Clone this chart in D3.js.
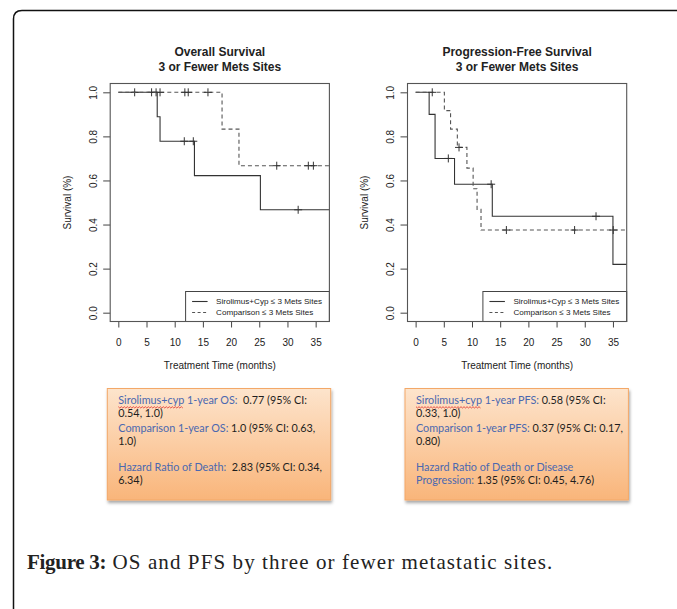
<!DOCTYPE html>
<html>
<head>
<meta charset="utf-8">
<script src="https://cdnjs.cloudflare.com/ajax/libs/d3/7.8.5/d3.min.js"></script>
<style>
  body { margin: 0; background: #fff; }
  svg text { font-family: "Liberation Sans", Arial, sans-serif; fill: #222; }
</style>
</head>
<body>
<div id="chart"></div>
<script>
// ---- values ----
// OS, Sirolimus+Cyp (solid)
var osSiroTimes = [0, 6.9, 7.4, 13.5, 25.2];
var osSiroSurv  = [1, 0.889, 0.778, 0.622, 0.467];
var osSiroCens  = [2.9, 5.9, 6.7, 11.7, 13.3, 31.9];
// OS, comparison (dashed)
var osCompTimes = [0, 18.4, 21.4];
var osCompSurv  = [1, 0.833, 0.667];
var osCompCens  = [7.4, 11.8, 12.4, 15.9, 28.1, 33.7, 34.6];

// PFS, Sirolimus+Cyp (solid)
var pfsSiroTimes = [0, 2.4, 3.45, 6.9, 13.6, 35.0];
var pfsSiroSurv  = [1, 0.9, 0.7, 0.583, 0.4375, 0.219];
var pfsSiroCens  = [5.8, 13.4, 32.0];
// PFS, comparison (dashed)
var pfsCompTimes = [0, 5.1, 6.2, 7.4, 9.1, 10.2, 10.9, 11.6];
var pfsCompSurv  = [1, 0.917, 0.833, 0.75, 0.656, 0.5625, 0.469, 0.375];
var pfsCompCens  = [2.95, 7.7, 16.1, 28.2, 35.05];

var xTicks = [0, 5, 10, 15, 20, 25, 30, 35];
var yTicks = [0, 0.2, 0.4, 0.6, 0.8, 1.0];
var legendLabels = ["Sirolimus+Cyp \u2264 3 Mets Sites", "Comparison \u2264 3 Mets Sites"];
var osTitle  = ["Overall Survival", "3 or Fewer Mets Sites"];
var pfsTitle = ["Progression-Free Survival", "3 or Fewer Mets Sites"];
var xTitle = "Treatment Time (months)";
var yTitle = "Survival (%)";

// summary boxes: each line = list of [text, kind]; kind lab = blue label, val = dark value, wavy = label with red squiggle
var osNotes = [
  [["Sirolimus+cyp", "wavy"], [" 1-year OS:", "lab"], ["  0.77 (95% CI:", "val"]],
  [["0.54, 1.0)", "val"]],
  [["Comparison 1-year OS:", "lab"], [" 1.0 (95% CI: 0.63,", "val"]],
  [["1.0)", "val"]],
  [],
  [["Hazard Ratio of Death:", "lab"], ["  2.83 (95% CI: 0.34,", "val"]],
  [["6.34)", "val"]]
];
var pfsNotes = [
  [["Sirolimus+cyp", "wavy"], [" 1-year PFS:", "lab"], [" 0.58 (95% CI:", "val"]],
  [["0.33, 1.0)", "val"]],
  [["Comparison 1-year PFS:", "lab"], [" 0.37 (95% CI: 0.17,", "val"]],
  [["0.80)", "val"]],
  [],
  [["Hazard Ratio of Death or Disease", "lab"]],
  [["Progression:", "lab"], [" 1.35 (95% CI: 0.45, 4.76)", "val"]]
];
var captionBold = "Figure 3:";
var captionText = " OS and PFS by three or fewer metastatic sites.";

var W = 677, H = 609;
var svg = d3.select("#chart").append("svg").attr("width", W).attr("height", H);

var defs = svg.append("defs");
var grad = defs.append("linearGradient").attr("id", "boxGrad")
  .attr("x1", 0).attr("y1", 0).attr("x2", 0).attr("y2", 1);
grad.append("stop").attr("offset", "0%").attr("stop-color", "#fde4cc");
grad.append("stop").attr("offset", "100%").attr("stop-color", "#f9b57a");
var shadow = defs.append("filter").attr("id", "shadow")
  .attr("x", "-10%").attr("y", "-10%").attr("width", "130%").attr("height", "140%");
shadow.append("feDropShadow").attr("dx", 1).attr("dy", 2.5).attr("stdDeviation", 1.8)
  .attr("flood-color", "#000").attr("flood-opacity", 0.35);

// outer frame, rounded top-left corner, open on right and bottom
svg.append("path")
  .attr("d", "M13.5," + (H + 5) + " L13.5,19 Q13.5,10.5 22,10.5 L" + (W + 5) + ",10.5")
  .attr("fill", "none").attr("stroke", "#111").attr("stroke-width", 1.5);

// step value lookup for censor marks
function survAt(times, surv, t) {
  var i = d3.bisectRight(times, t) - 1;
  return surv[Math.max(i, 0)];
}

function drawPanel(left, titles, curves, clipId) {
  var top = 83.5, bottom = 321.5, width = 219.2;
  var x = d3.scaleLinear().domain([-1.44, 37.44]).range([left, left + width]);
  var y = d3.scaleLinear().domain([-0.04, 1.04]).range([bottom, top]);
  var g = svg.append("g");

  defs.append("clipPath").attr("id", clipId).append("rect")
    .attr("x", left).attr("y", top).attr("width", width).attr("height", bottom - top);

  // titles
  g.append("text").attr("x", left + width / 2).attr("y", 56)
    .attr("text-anchor", "middle").attr("font-size", 12).attr("font-weight", "bold").text(titles[0]);
  g.append("text").attr("x", left + width / 2).attr("y", 71)
    .attr("text-anchor", "middle").attr("font-size", 12).attr("font-weight", "bold").text(titles[1]);

  // axes
  var xa = g.append("g").attr("transform", "translate(0," + bottom + ")")
    .call(d3.axisBottom(x).tickValues(xTicks).tickSize(6).tickPadding(11));
  var ya = g.append("g").attr("transform", "translate(" + left + ",0)")
    .call(d3.axisLeft(y).tickValues(yTicks).tickSize(7).tickFormat(d3.format(".1f")));
  [xa, ya].forEach(function(a) {
    a.select(".domain").remove();
    a.selectAll("line").attr("stroke", "#444");
    a.selectAll("text").attr("font-size", 10).attr("fill", "#222")
      .style("font-family", "'Liberation Sans', Arial, sans-serif");
  });
  ya.selectAll("text").attr("x", 0).attr("dy", "0.35em").attr("text-anchor", "middle")
    .attr("transform", "translate(-17,0) rotate(-90)");

  g.append("text").attr("x", left + width / 2).attr("y", 368.5)
    .attr("text-anchor", "middle").attr("font-size", 10).text(xTitle);
  g.append("text").attr("transform", "translate(" + (left - 43) + "," + (top + bottom) / 2 + ") rotate(-90)")
    .attr("dy", "0.35em").attr("text-anchor", "middle").attr("font-size", 10).text(yTitle);

  // curves
  var line = d3.line().curve(d3.curveStepAfter)
    .x(function(d) { return x(d[0]); }).y(function(d) { return y(d[1]); });
  var plot = g.append("g").attr("clip-path", "url(#" + clipId + ")");
  curves.forEach(function(c) {
    var pts = c.times.map(function(t, i) { return [t, c.surv[i]]; });
    pts.push([x.domain()[1] + 1, c.surv[c.surv.length - 1]]);
    plot.append("path").attr("d", line(pts)).attr("fill", "none")
      .attr("stroke", c.color).attr("stroke-width", 1.1)
      .attr("stroke-dasharray", c.dash ? "4,3" : null);
    plot.selectAll(null).data(c.cens).enter().append("path")
      .attr("d", function(t) {
        var cx = x(t), cy = y(survAt(c.times, c.surv, t));
        return "M" + (cx - 4) + "," + cy + "H" + (cx + 4) + "M" + cx + "," + (cy - 4) + "V" + (cy + 4);
      })
      .attr("stroke", "#333").attr("stroke-width", 1);
  });

  // legend
  var lx = left + width - 143.8, ly = 291.5;
  g.append("rect").attr("x", lx).attr("y", ly).attr("width", left + width - lx).attr("height", bottom - ly)
    .attr("fill", "#fff").attr("stroke", "#444").attr("stroke-width", 1);
  curves.forEach(function(c, i) {
    var yy = 301.5 + i * 11;
    g.append("line").attr("x1", lx + 6.5).attr("x2", lx + 22).attr("y1", yy).attr("y2", yy)
      .attr("stroke", c.color).attr("stroke-width", 1.1).attr("stroke-dasharray", c.dash ? "3,2.5" : null);
    g.append("text").attr("x", lx + 30.5).attr("y", yy).attr("dy", "0.35em")
      .attr("font-size", 8.1).text(legendLabels[i]);
  });

  // plot box
  g.append("rect").attr("x", left).attr("y", top).attr("width", width).attr("height", bottom - top)
    .attr("fill", "none").attr("stroke", "#555").attr("stroke-width", 1.1);
}

drawPanel(110.2, osTitle, [
  {times: osSiroTimes, surv: osSiroSurv, cens: osSiroCens, color: "#333", dash: false},
  {times: osCompTimes, surv: osCompSurv, cens: osCompCens, color: "#555", dash: true}
], "clipOS");
drawPanel(407.5, pfsTitle, [
  {times: pfsSiroTimes, surv: pfsSiroSurv, cens: pfsSiroCens, color: "#333", dash: false},
  {times: pfsCompTimes, surv: pfsCompSurv, cens: pfsCompCens, color: "#555", dash: true}
], "clipPFS");

// summary boxes
var lineY = [0, 12.6, 27.6, 40.3, null, 66.6, 79.3];
function drawNotes(bx, notes) {
  var g = svg.append("g");
  g.append("rect").attr("x", bx).attr("y", 388.5).attr("width", 223.4).attr("height", 111.5)
    .attr("fill", "url(#boxGrad)").attr("stroke", "#f3a868").attr("stroke-width", 1)
    .attr("filter", "url(#shadow)");
  notes.forEach(function(segs, i) {
    if (!segs.length) return;
    var t = g.append("text").attr("x", bx + 11).attr("y", 404.2 + lineY[i])
      .attr("font-size", 10.8).style("font-family", "Lato, 'Open Sans', sans-serif");
    segs.forEach(function(s) {
      t.append("tspan").attr("class", s[1]).style("white-space", "pre")
        .attr("fill", s[1] === "val" ? "#1e1e1e" : "#4a68b0").text(s[0]);
    });
    // red spell-check squiggle under the first word
    t.selectAll("tspan.wavy").each(function() {
      var w = this.getComputedTextLength();
      var y0 = 404.2 + lineY[i] + 2.5, x0 = bx + 11, d = "M" + x0 + "," + y0;
      for (var k = 1; k * 1.5 <= w; k++) d += "L" + (x0 + k * 1.5) + "," + (y0 + (k % 2 ? 1.3 : 0));
      g.append("path").attr("d", d).attr("fill", "none").attr("stroke", "#e0302a").attr("stroke-width", 0.8);
    });
  });
}
drawNotes(107.3, osNotes);
drawNotes(405, pfsNotes);

// caption
var cap = svg.append("text").attr("x", 27).attr("y", 569)
  .style("font-family", "'Liberation Serif', 'Times New Roman', serif").attr("font-size", 21).attr("fill", "#111");
cap.append("tspan").attr("font-weight", "bold").attr("letter-spacing", -0.3).text(captionBold);
cap.append("tspan").style("white-space", "pre").attr("letter-spacing", 1.1).text(captionText);
</script>
</body>
</html>
